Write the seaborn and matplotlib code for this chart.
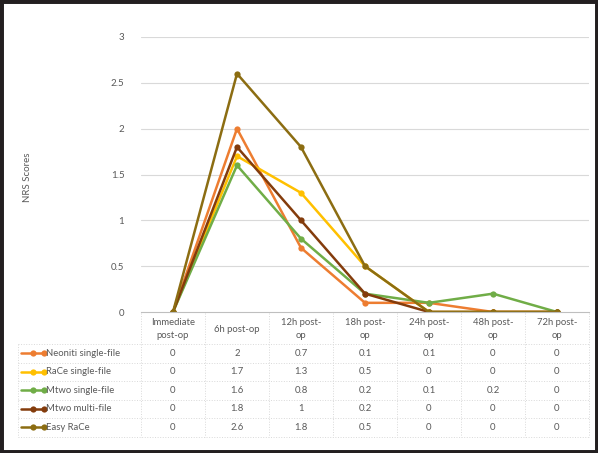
import numpy as np
import pandas as pd
import seaborn as sns
import matplotlib.pyplot as plt
from matplotlib.lines import Line2D
from matplotlib.patches import Rectangle

# ===== data =====
timepoints = ['Immediate\npost-op', '6h post-op', '12h post-\nop', '18h post-\nop',
              '24h post-\nop', '48h post-\nop', '72h post-\nop']
series_names = ['Neoniti single-file', 'RaCe single-file', 'Mtwo single-file',
                'Mtwo multi-file', 'Easy RaCe']
neoniti = [0, 2, 0.7, 0.1, 0.1, 0, 0]
race = [0, 1.7, 1.3, 0.5, 0, 0, 0]
mtwo_single = [0, 1.6, 0.8, 0.2, 0.1, 0.2, 0]
mtwo_multi = [0, 1.8, 1, 0.2, 0, 0, 0]
easy_race = [0, 2.6, 1.8, 0.5, 0, 0, 0]
yticks = [0, 0.5, 1, 1.5, 2, 2.5, 3]
ytick_labels = ['0', '0.5', '1', '1.5', '2', '2.5', '3']

colors = ['#ED7D31', '#FFC000', '#70AD47', '#843C0C', '#8C6D12']
all_values = [neoniti, race, mtwo_single, mtwo_multi, easy_race]

rows = []
for name, vals in zip(series_names, all_values):
    for i, v in enumerate(vals):
        rows.append({'series': name, 'x': i, 'score': v})
df = pd.DataFrame(rows)

sns.set_style('white')
plt.rcParams['font.family'] = ['Lato', 'DejaVu Sans']
TXT = '#595959'
GRID = '#D9D9D9'

W, H = 598, 453
fig = plt.figure(figsize=(W / 100, H / 100), dpi=100)


def px(x, y):
    return x / W, 1 - y / H


# plot area
x0, x1, ytop, ybot = 141, 589, 37, 312
ax = fig.add_axes([x0 / W, 1 - ybot / H, (x1 - x0) / W, (ybot - ytop) / H])
sns.lineplot(data=df, x='x', y='score', hue='series', hue_order=series_names,
             palette=colors, marker='o', markersize=4.5, markeredgewidth=0,
             linewidth=1.8, sort=False, legend=False, ax=ax)
ax.set_xlim(-0.5, 6.5)
ax.set_ylim(0, 3)
ax.set_yticks(yticks)
ax.set_yticklabels(ytick_labels, color=TXT, fontsize=7)
ax.tick_params(axis='y', length=0, pad=12)
ax.set_xticks([])
ax.set_xlabel('')
ax.set_ylabel('')
for y in yticks[1:]:
    ax.axhline(y, color=GRID, lw=0.8, zorder=0)
for s in ['top', 'right', 'left']:
    ax.spines[s].set_visible(False)
ax.spines['bottom'].set_color('#BFBFBF')
ax.spines['bottom'].set_linewidth(0.8)

fig.text(*px(27, 177), 'NRS Scores', rotation=90, ha='center', va='center',
         color=TXT, fontsize=7)

# ===== data table =====
col_w = (x1 - x0) / 7
row_bounds = [344, 362.5, 381, 399.5, 418, 436.5]
tbl_left = 18

# header labels
for i, lab in enumerate(timepoints):
    fig.text(*px(x0 + col_w * (i + 0.5), 329), lab, ha='center', va='center',
             color=TXT, fontsize=6.8, linespacing=1.5)

# grid lines of the table
for k in range(8):
    xx = x0 + col_w * k
    fig.add_artist(Line2D([xx / W, xx / W], [1 - 313 / H, 1 - row_bounds[-1] / H],
                          color=GRID, lw=0.7, ls=':'))
fig.add_artist(Line2D([tbl_left / W, tbl_left / W],
                      [1 - row_bounds[0] / H, 1 - row_bounds[-1] / H],
                      color=GRID, lw=0.7, ls=':'))
for yy in row_bounds:
    fig.add_artist(Line2D([tbl_left / W, x1 / W], [1 - yy / H, 1 - yy / H],
                          color=GRID, lw=0.7, ls=':'))

# rows
for r, (name, vals, c) in enumerate(zip(series_names, all_values, colors)):
    yc = (row_bounds[r] + row_bounds[r + 1]) / 2
    fig.add_artist(Line2D([21 / W, 44 / W], [1 - yc / H] * 2, color=c, lw=1.8,
                          marker='o', markersize=4.5, markevery=[1],
                          markeredgewidth=0))
    fig.add_artist(Line2D([32.5 / W], [1 - yc / H], color=c, marker='o',
                          markersize=4.5, markeredgewidth=0, ls='none'))
    fig.text(*px(46, yc), name, ha='left', va='center', color=TXT, fontsize=6.8)
    for i, v in enumerate(vals):
        fig.text(*px(x0 + col_w * (i + 0.5), yc), f'{v:g}', ha='center',
                 va='center', color=TXT, fontsize=6.8)

# outer black frame
fig.add_artist(Rectangle((0, 0), 1, 1, transform=fig.transFigure, fill=False,
                         edgecolor='#231F20', lw=5))

fig.savefig('out.png', dpi=100)
